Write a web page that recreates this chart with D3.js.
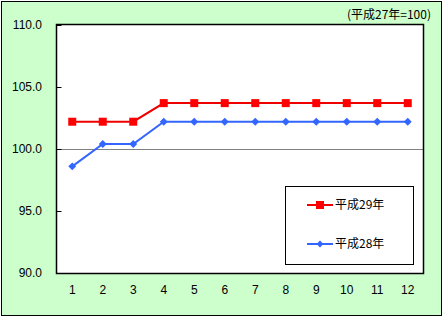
<!DOCTYPE html>
<html>
<head>
<meta charset="utf-8" />
<style>
    body { margin: 0; background: #fff; }
    text { font-family: "Liberation Sans", "Noto Sans CJK JP", sans-serif; font-size: 12px; fill: #000; }
    .jp { font-family: "Noto Sans CJK JP", sans-serif; }
</style>
</head>
<body>
<svg width="444" height="318"></svg>
<script src="https://d3js.org/d3.v7.min.js"></script>
<script>
    var months = ["1", "2", "3", "4", "5", "6", "7", "8", "9", "10", "11", "12"];
    var h29 = [102.2, 102.2, 102.2, 103.7, 103.7, 103.7, 103.7, 103.7, 103.7, 103.7, 103.7, 103.7];
    var h28 = [98.6, 100.4, 100.4, 102.2, 102.2, 102.2, 102.2, 102.2, 102.2, 102.2, 102.2, 102.2];
    var yTicks = [90, 95, 100, 105, 110];

    var svg = d3.select("svg");

    // outer frame
    svg.append("rect")
        .attr("x", 1.5).attr("y", 1.5)
        .attr("width", 440).attr("height", 314)
        .attr("fill", "#ccffcc")
        .attr("stroke", "#000").attr("stroke-width", 1);

    var plotL = 57, plotR = 423, plotT = 25, plotB = 273;

    var x = d3.scaleBand().domain(months).range([plotL, plotR]);
    var y = d3.scaleLinear().domain([90, 110]).range([plotB, plotT]);

    svg.append("rect")
        .attr("x", plotL).attr("y", plotT)
        .attr("width", plotR - plotL).attr("height", plotB - plotT)
        .attr("fill", "#fff");

    // 100 reference line
    svg.append("line")
        .attr("x1", plotL).attr("x2", plotR)
        .attr("y1", Math.round(y(100)) + 0.5).attr("y2", Math.round(y(100)) + 0.5)
        .attr("stroke", "#808080").attr("stroke-width", 1);

    svg.append("rect")
        .attr("x", plotL - 0.5).attr("y", plotT - 0.5)
        .attr("width", plotR - plotL + 1).attr("height", plotB - plotT + 1)
        .attr("fill", "none")
        .attr("stroke", "#000").attr("stroke-width", 1.5);

    // y axis
    var yAxis = svg.append("g")
        .attr("transform", "translate(" + (plotL - 0.5) + ",0)")
        .call(d3.axisRight(y).tickValues(yTicks).tickSize(5).tickFormat(function () { return ""; }));
    yAxis.select(".domain").remove();
    yAxis.selectAll("line").attr("stroke", "#000");

    svg.append("g").selectAll("text")
        .data(yTicks)
        .enter().append("text")
        .attr("x", 42)
        .attr("y", function (d) { return y(d); })
        .attr("dy", "0.35em")
        .attr("text-anchor", "end")
        .text(function (d) { return d3.format(".1f")(d); });

    // x labels
    svg.append("g").selectAll("text")
        .data(months)
        .enter().append("text")
        .attr("x", function (d) { return x(d) + x.bandwidth() / 2; })
        .attr("y", 290)
        .attr("dy", "0.35em")
        .attr("text-anchor", "middle")
        .text(function (d) { return d; });

    var line = d3.line()
        .x(function (d, i) { return x(months[i]) + x.bandwidth() / 2; })
        .y(function (d) { return y(d); });

    // 平成28年
    svg.append("path")
        .datum(h28)
        .attr("d", line)
        .attr("fill", "none")
        .attr("stroke", "#3366ff").attr("stroke-width", 2);
    svg.append("g").selectAll("path")
        .data(h28)
        .enter().append("path")
        .attr("d", d3.symbol(d3.symbolDiamond2, 40))
        .attr("transform", function (d, i) {
            return "translate(" + (x(months[i]) + x.bandwidth() / 2) + "," + y(d) + ")";
        })
        .attr("fill", "#3366ff");

    // 平成29年
    svg.append("path")
        .datum(h29)
        .attr("d", line)
        .attr("fill", "none")
        .attr("stroke", "#ee0000").attr("stroke-width", 2);
    svg.append("g").selectAll("rect")
        .data(h29)
        .enter().append("rect")
        .attr("x", function (d, i) { return x(months[i]) + x.bandwidth() / 2 - 4; })
        .attr("y", function (d) { return y(d) - 4; })
        .attr("width", 8).attr("height", 8)
        .attr("fill", "#ff0000");

    // unit
    svg.append("text")
        .attr("class", "jp")
        .attr("x", 431).attr("y", 15)
        .attr("dy", "0.35em")
        .attr("text-anchor", "end")
        .text("(平成27年=100)");

    // legend
    svg.append("rect")
        .attr("x", 285.5).attr("y", 186.5)
        .attr("width", 128).attr("height", 78)
        .attr("fill", "#fff")
        .attr("stroke", "#000").attr("stroke-width", 1);

    var legend = [
        { name: "平成29年", color: "#ee0000", marker: "square", y: 205 },
        { name: "平成28年", color: "#3366ff", marker: "diamond", y: 244 }
    ];
    var lg = svg.append("g").selectAll("g")
        .data(legend)
        .enter().append("g")
        .attr("transform", function (d) { return "translate(0," + d.y + ")"; });
    lg.append("line")
        .attr("x1", 307).attr("x2", 333)
        .attr("stroke", function (d) { return d.color; })
        .attr("stroke-width", 2);
    lg.filter(function (d) { return d.marker === "square"; })
        .append("rect")
        .attr("x", 316).attr("y", -4).attr("width", 8).attr("height", 8)
        .attr("fill", "#ff0000");
    lg.filter(function (d) { return d.marker === "diamond"; })
        .append("path")
        .attr("d", d3.symbol(d3.symbolDiamond2, 30))
        .attr("transform", "translate(320,0)")
        .attr("fill", "#3366ff");
    lg.append("text")
        .attr("class", "jp")
        .attr("x", 335)
        .attr("dy", "0.35em")
        .text(function (d) { return d.name; });
</script>
</body>
</html>
